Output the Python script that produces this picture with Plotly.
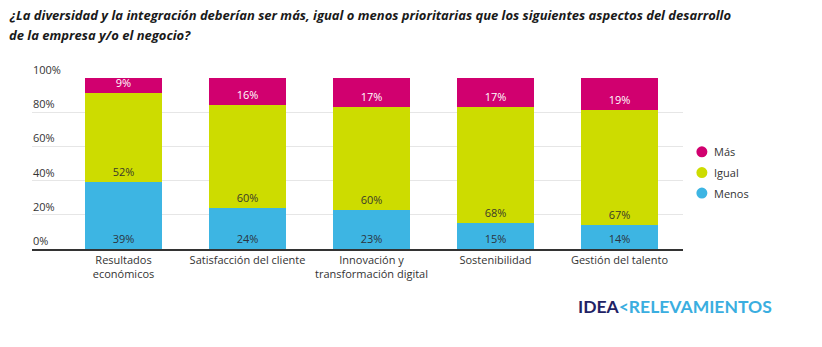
import plotly.graph_objects as go

categories = [
    "Resultados<br>económicos",
    "Satisfacción del cliente",
    "Innovación y<br>transformación digital",
    "Sostenibilidad",
    "Gestión del talento",
]
menos = [39, 24, 23, 15, 14]
igual = [52, 60, 60, 68, 67]
mas = [9, 16, 17, 17, 19]
y_ticks = [0, 20, 40, 60, 80, 100]
y_tick_labels = ["0%", "20%", "40%", "60%", "80%", "100%"]
title_lines = [
    "¿La diversidad y la integración deberían ser más, igual o menos prioritarias que los siguientes aspectos del desarrollo",
    "de la empresa y/o el negocio?",
]

series = [
    ("Menos", menos, "#3db5e3", "#2b3440"),
    ("Igual", igual, "#cddc00", "#3a3a2a"),
    ("Más", mas, "#d1006f", "#ffffff"),
]

FONT = "Open Sans"
fig = go.Figure()

for name, vals, color, tcolor in series:
    fig.add_trace(go.Bar(
        x=categories, y=vals, name=name,
        marker=dict(color=color, line=dict(width=0)),
        text=[f"{v}%" for v in vals],
        textposition="inside", insidetextanchor="start",
        textangle=0,
        textfont=dict(family=FONT, size=11, color=tcolor),
        constraintext="none",
        showlegend=False, hoverinfo="skip",
    ))

# y tick labels sit left-aligned above their gridlines
for v, lab in zip(y_ticks, y_tick_labels):
    fig.add_annotation(
        xref="paper", yref="y", x=0, y=v, text=lab, showarrow=False,
        xanchor="left", yanchor="bottom", yshift=-1, xshift=-1,
        font=dict(family=FONT, size=11, color="#333333"),
    )

# legend: round swatches with labels, top to bottom Más / Igual / Menos
legend_y = [0.568, 0.447, 0.327]
for (name, vals, color, tcolor), ly in zip(reversed(series), legend_y):
    fig.add_shape(
        type="circle", xref="paper", yref="paper",
        xsizemode="pixel", ysizemode="pixel",
        xanchor=1.029, yanchor=ly, x0=-5.5, x1=5.5, y0=-5.5, y1=5.5,
        fillcolor=color, line=dict(width=0),
    )
    fig.add_annotation(
        xref="paper", yref="paper", x=1.045, y=ly, text=name,
        showarrow=False, xanchor="left", yanchor="middle",
        font=dict(family=FONT, size=11, color="#333333"),
    )

# two-line title, 20px line pitch
for line, ty in zip(title_lines, [1.368, 1.251]):
    fig.add_annotation(
        xref="paper", yref="paper", x=-0.0384, y=ty,
        text=f"<b><i>{line}</i></b>",
        showarrow=False, xanchor="left", yanchor="middle", align="left",
        font=dict(family=FONT, size=13, color="#1a1a1a"),
    )

fig.add_annotation(
    xref="paper", yref="paper", x=0.836, y=-0.339,
    text="<b><span style='color:#1f2265'>IDEA</span>"
         "<span style='color:#3aaee0'>&lt;RELEVAMIENTOS</span></b>",
    showarrow=False, xanchor="left", yanchor="middle",
    font=dict(family="Lato", size=17.5),
)

fig.update_layout(
    width=822, height=347,
    margin=dict(l=32, r=139, t=78, b=98),
    paper_bgcolor="white", plot_bgcolor="white",
    barmode="stack", bargap=0.38,
    showlegend=False,
    xaxis=dict(
        range=[-0.738, 4.512], showgrid=False,
        showline=True, linecolor="#333333", linewidth=1.5,
        ticks="", tickfont=dict(family=FONT, size=11, color="#333333"),
        fixedrange=True,
    ),
    yaxis=dict(
        range=[0, 100], tickvals=y_ticks, showticklabels=False,
        showgrid=True, gridcolor="#e6e6e6", gridwidth=1,
        zeroline=False, fixedrange=True,
    ),
)

fig.write_html("out.html")
